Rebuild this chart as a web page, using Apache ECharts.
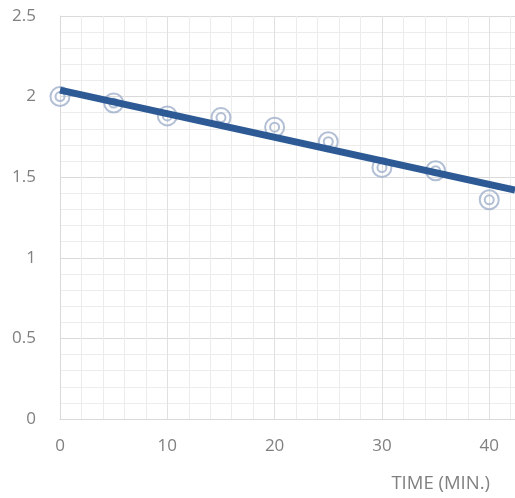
<!DOCTYPE html>
<html><head><meta charset="utf-8">
<style>html,body{margin:0;padding:0;background:#fff}#c{width:515px;height:498px}</style>
<script src="https://cdn.jsdelivr.net/npm/echarts@6/dist/echarts.min.js"></script>
</head><body><div id="c"></div>
<script>
const times = [0, 5, 10, 15, 20, 25, 30, 35, 40];
const values = [2.00, 1.96, 1.88, 1.87, 1.81, 1.72, 1.56, 1.54, 1.36];
const trendX = [0, 42.4];
const trendY = [2.04, 1.42];
const xTicks = [0, 10, 20, 30, 40];
const yTicks = [0, 0.5, 1, 1.5, 2, 2.5];
const xName = 'TIME (MIN.)';

const pts = times.map((t, i) => [t, values[i]]);
const trend = trendX.map((t, i) => [t, trendY[i]]);
const chart = echarts.init(document.getElementById('c'), null, {renderer: 'canvas'});
const labelStyle = {color: '#808080', fontSize: 17, fontFamily: 'Open Sans'};
chart.setOption({
  animation: false,
  grid: {left: 60, top: 16, right: 0, bottom: 79},
  xAxis: {
    type: 'value', min: 0, max: 42.4, interval: 10,
    name: xName, nameLocation: 'end',
    nameTextStyle: {color: '#808080', fontSize: 18.5, fontFamily: 'Open Sans', align: 'right', verticalAlign: 'top', padding: [55, 25, 0, 0]},
    nameGap: 0,
    axisLine: {show: true, lineStyle: {color: '#d9d9d9'}},
    axisTick: {show: false},
    axisLabel: Object.assign({margin: 19, showMaxLabel: false, formatter: v => xTicks.includes(v) ? String(v) : ''}, labelStyle),
    splitLine: {show: true, lineStyle: {color: '#e0e0e0', width: 1}},
    minorTick: {show: false, splitNumber: 5},
    minorSplitLine: {show: true, lineStyle: {color: '#ececec', width: 1}}
  },
  yAxis: {
    type: 'value', min: 0, max: 2.5, interval: 0.5,
    axisLine: {show: true, lineStyle: {color: '#d9d9d9'}},
    axisTick: {show: false},
    axisLabel: Object.assign({margin: 24, formatter: v => yTicks.includes(v) ? String(v) : ''}, labelStyle),
    splitLine: {show: true, lineStyle: {color: '#dadada', width: 1}},
    minorTick: {show: false, splitNumber: 5},
    minorSplitLine: {show: true, lineStyle: {color: '#ececec', width: 1}}
  },
  series: [
    {type: 'scatter', data: pts, symbol: 'circle', symbolSize: 19, z: 2,
     itemStyle: {color: 'rgba(255,255,255,0)', borderColor: '#9fafcb', borderWidth: 2}},
    {type: 'scatter', data: pts, symbol: 'circle', symbolSize: 9, z: 2,
     itemStyle: {color: 'rgba(255,255,255,0)', borderColor: '#9fafcb', borderWidth: 2}},
    {type: 'line', data: trend, symbol: 'none', z: 3,
     lineStyle: {color: '#2d5a94', width: 7}}
  ]
});
</script></body></html>
